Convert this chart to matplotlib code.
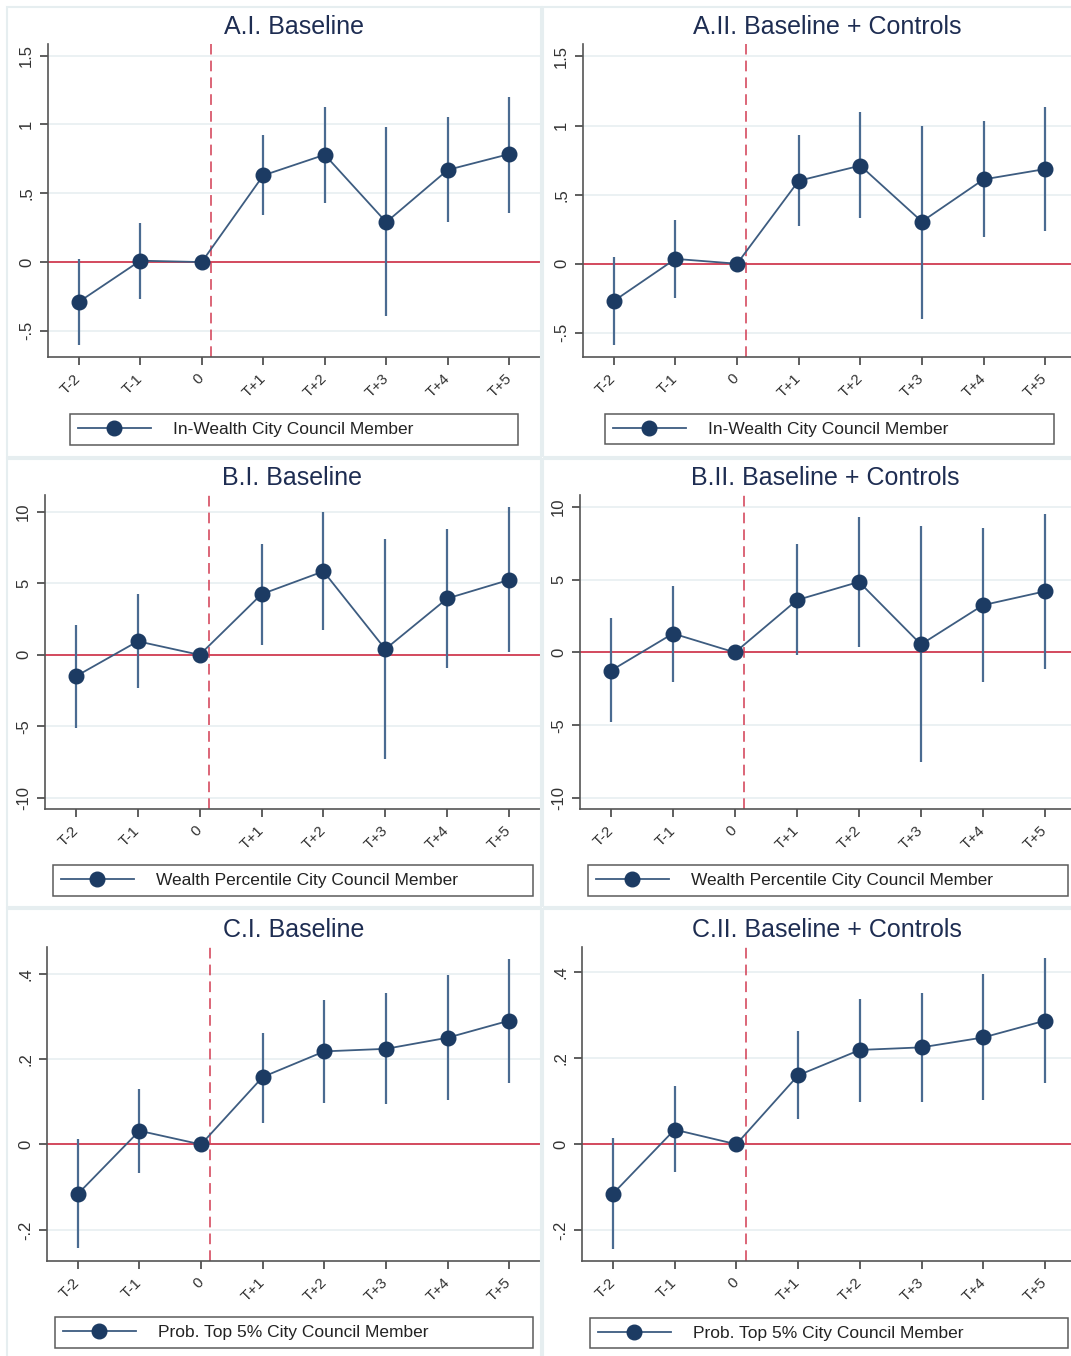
import matplotlib.pyplot as plt
from matplotlib.patches import Rectangle

plt.rcParams['font.family'] = ['Liberation Sans', 'DejaVu Sans']

# event time
periods = [-2, -1, 0, 1, 2, 3, 4, 5]
period_labels = ['T-2', 'T-1', '0', 'T+1', 'T+2', 'T+3', 'T+4', 'T+5']

# A. In-Wealth City Council Member
a1_coef = [-0.29, 0.01, 0.0, 0.63, 0.78, 0.29, 0.67, 0.785]
a1_lo = [-0.60, -0.27, 0.0, 0.34, 0.43, -0.39, 0.29, 0.36]
a1_hi = [0.025, 0.285, 0.0, 0.92, 1.13, 0.98, 1.055, 1.20]

a2_coef = [-0.27, 0.035, 0.0, 0.60, 0.71, 0.305, 0.61, 0.685]
a2_lo = [-0.59, -0.25, 0.0, 0.27, 0.33, -0.40, 0.19, 0.24]
a2_hi = [0.05, 0.32, 0.0, 0.93, 1.10, 1.00, 1.03, 1.135]

# B. Wealth Percentile City Council Member
b1_coef = [-1.5, 0.95, 0.0, 4.25, 5.85, 0.4, 3.95, 5.25]
b1_lo = [-5.1, -2.35, 0.0, 0.7, 1.75, -7.3, -0.95, 0.2]
b1_hi = [2.1, 4.25, 0.0, 7.8, 10.0, 8.1, 8.85, 10.35]

b2_coef = [-1.25, 1.3, 0.0, 3.6, 4.85, 0.55, 3.25, 4.2]
b2_lo = [-4.75, -2.0, 0.0, -0.2, 0.4, -7.55, -2.0, -1.15]
b2_hi = [2.35, 4.6, 0.0, 7.45, 9.3, 8.7, 8.55, 9.5]

# C. Prob. Top 5% City Council Member
c1_coef = [-0.116, 0.032, 0.0, 0.158, 0.218, 0.224, 0.25, 0.29]
c1_lo = [-0.243, -0.067, 0.0, 0.051, 0.096, 0.095, 0.103, 0.145]
c1_hi = [0.012, 0.131, 0.0, 0.262, 0.339, 0.355, 0.398, 0.435]

c2_coef = [-0.115, 0.034, 0.0, 0.16, 0.219, 0.225, 0.248, 0.287]
c2_lo = [-0.242, -0.065, 0.0, 0.059, 0.099, 0.099, 0.102, 0.142]
c2_hi = [0.014, 0.135, 0.0, 0.262, 0.337, 0.351, 0.395, 0.432]

titles = ['A.I. Baseline', 'A.II. Baseline + Controls',
          'B.I. Baseline', 'B.II. Baseline + Controls',
          'C.I. Baseline', 'C.II. Baseline + Controls']
legend_labels = ['In-Wealth City Council Member', 'In-Wealth City Council Member',
                 'Wealth Percentile City Council Member', 'Wealth Percentile City Council Member',
                 'Prob. Top 5% City Council Member', 'Prob. Top 5% City Council Member']
series = [(a1_coef, a1_lo, a1_hi), (a2_coef, a2_lo, a2_hi),
          (b1_coef, b1_lo, b1_hi), (b2_coef, b2_lo, b2_hi),
          (c1_coef, c1_lo, c1_hi), (c2_coef, c2_lo, c2_hi)]

a_ticks = [-0.5, 0, 0.5, 1, 1.5]
a_tick_labels = ['-.5', '0', '.5', '1', '1.5']
b_ticks = [-10, -5, 0, 5, 10]
b_tick_labels = ['-10', '-5', '0', '5', '10']
c_ticks = [-0.2, 0, 0.2, 0.4]
c_tick_labels = ['-.2', '0', '.2', '.4']
yticks = [(a_ticks, a_tick_labels)] * 2 + [(b_ticks, b_tick_labels)] * 2 + [(c_ticks, c_tick_labels)] * 2
ylims = [(-0.69, 1.585), (-0.675, 1.59), (-10.8, 11.2), (-10.76, 10.82),
         (-0.273, 0.4625), (-0.271, 0.458)]

W, H = 1071, 1356
# pixel boxes: axes (left, top, right, bottom), legend (left, top, right, bottom), panel
axes_px = [(48, 44, 540, 357), (583, 44, 1071, 357),
           (45, 495, 540, 809), (580, 495, 1071, 809),
           (47, 947, 540, 1261), (582, 947, 1071, 1261)]
legend_px = [(70, 413, 518, 446), (605, 412, 1054, 446),
             (53, 863, 533, 898), (588, 863, 1068, 898),
             (55, 1315, 533, 1350), (590, 1316, 1068, 1350)]
panel_px = [(7, 7, 541, 457), (543, 7, 1075, 457),
            (7, 459, 541, 907), (543, 459, 1075, 907),
            (7, 909, 541, 1360), (543, 909, 1075, 1360)]
# right-hand column is cut off by the image edge
xright = [5.5, 5.42, 5.5, 5.42, 5.5, 5.42]

navy = '#1c3b63'
line_col = '#3d5c80'
ci_col = '#4a6b91'
red = '#d23c52'
grid_col = '#e8eff1'
title_col = '#1e2d52'


def box(l, t, r, b):
    return [l / W, 1 - b / H, (r - l) / W, (b - t) / H]


fig = plt.figure(figsize=(W / 100, H / 100), dpi=100)
fig.patch.set_facecolor('white')

for p in panel_px:
    l, t, r, b = p
    fig.patches.append(Rectangle((l / W, 1 - b / H), (r - l) / W, (b - t) / H,
                                 transform=fig.transFigure, fill=False,
                                 edgecolor='#e6eef0', lw=1.5))

for i in range(6):
    coef, lo, hi = series[i]
    ax = fig.add_axes(box(*axes_px[i]))
    ax.set_xlim(-2.5, xright[i])
    ax.set_ylim(*ylims[i])
    ax.set_yticks(yticks[i][0])
    ax.set_yticklabels(yticks[i][1])
    ax.set_xticks(periods)
    ax.set_xticklabels(period_labels)
    ax.grid(axis='y', color=grid_col, lw=1.2)
    ax.set_axisbelow(True)

    ax.axhline(0, color=red, lw=1.3, zorder=1)
    ax.axvline(0.15, color=red, lw=1.1, dashes=(7, 4), zorder=1)
    ax.vlines(periods, lo, hi, color=ci_col, lw=1.6, zorder=2)
    ln, = ax.plot(periods, coef, '-o', color=line_col, lw=1.3, ms=10.5,
                  mfc=navy, mec=navy, zorder=3)

    for s in ['top', 'right']:
        ax.spines[s].set_visible(False)
    for s in ['left', 'bottom']:
        ax.spines[s].set_color('#555555')
        ax.spines[s].set_linewidth(1.2)
    ax.tick_params(axis='both', colors='#333333', length=6, width=1.1)
    ax.tick_params(axis='y', labelrotation=90, pad=4, labelsize=12)
    ax.tick_params(axis='x', pad=8, labelsize=11)
    for lab in ax.get_yticklabels():
        lab.set_va('center')
    for lab in ax.get_xticklabels():
        lab.set_rotation(45)
        lab.set_ha('right')
        lab.set_va('center')
        lab.set_rotation_mode('anchor')

    ax.set_title(titles[i], fontsize=18, color=title_col, pad=7)

    l, t, r, b = legend_px[i]
    leg = fig.legend([ln], [legend_labels[i]], loc='center left',
                     bbox_to_anchor=box(l, t, r, b), mode='expand',
                     fontsize=12.5, handlelength=4.2, handletextpad=1.3,
                     borderpad=0.45, borderaxespad=0, fancybox=False,
                     frameon=True, edgecolor='#333333')
    leg.get_frame().set_linewidth(1.1)
    for txt in leg.get_texts():
        txt.set_color('#222222')

fig.savefig('out.png', dpi=100)
